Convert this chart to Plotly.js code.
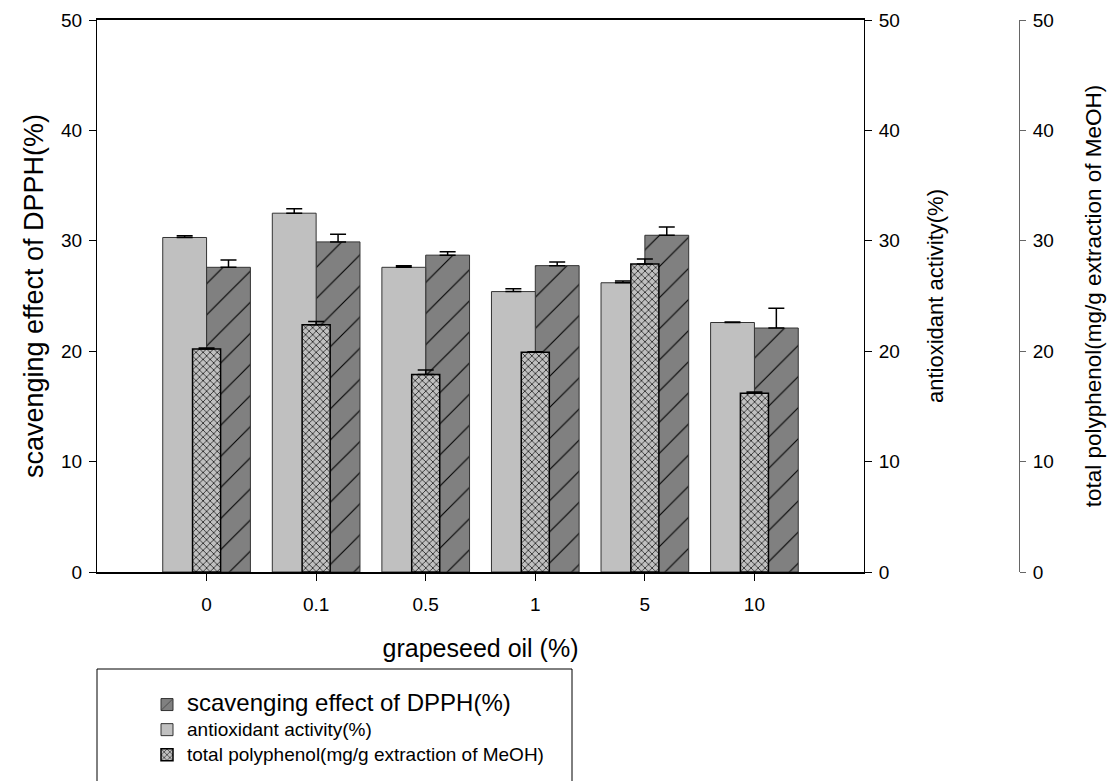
<!DOCTYPE html>
<html>
<head>
<meta charset="utf-8">
<script src="https://cdn.plot.ly/plotly-3.0.1.min.js"></script>
<style>html,body{margin:0;padding:0;background:#fff;}#chart{width:1113px;height:781px;}</style>
</head>
<body>
<div id="chart"></div>
<script>
// ---- data ----
const categories = ["0", "0.1", "0.5", "1", "5", "10"];
const scavenging = [27.6, 29.9, 28.7, 27.75, 30.5, 22.1];
const scavengingErr = [0.65, 0.7, 0.3, 0.33, 0.75, 1.8];
const antioxidant = [30.3, 32.5, 27.6, 25.4, 26.2, 22.6];
const antioxidantErr = [0.15, 0.4, 0.15, 0.25, 0.15, 0.05];
const polyphenol = [20.2, 22.4, 17.9, 19.9, 27.9, 16.2];
const polyphenolErr = [0.1, 0.3, 0.4, 0.05, 0.45, 0.1];
const yTicks = [0, 10, 20, 30, 40, 50];

const zeros = categories.map(() => 0);
const FONT = "Liberation Sans, Arial, sans-serif";

function err(arr) {
  return {type: "data", symmetric: false, array: arr, arrayminus: zeros,
          color: "#000", thickness: 1.5, width: 8};
}

const traces = [
  {
    type: "bar", name: '<span style="font-size:24px">scavenging effect of DPPH(%)</span>',
    x: categories, y: scavenging, yaxis: "y", offset: 0, width: 0.4,
    legendrank: 1, legendgroup: "a",
    marker: {color: "#808080", line: {color: "#333", width: 1},
             pattern: {shape: "/", size: 22, solidity: 0.05, fgcolor: "#000", bgcolor: "#808080"}},
    error_y: err(scavengingErr)
  },
  {
    type: "bar", name: '<span style="font-size:19px">antioxidant activity(%)</span>',
    x: categories, y: antioxidant, yaxis: "y2", offset: -0.4, width: 0.4,
    legendrank: 2, legendgroup: "b",
    marker: {color: "#c0c0c0", line: {color: "#333", width: 1}},
    error_y: err(antioxidantErr)
  },
  {
    type: "bar", name: '<span style="font-size:19px">total polyphenol(mg/g extraction of MeOH)</span>',
    x: categories, y: polyphenol, yaxis: "y3", offset: -0.128, width: 0.256,
    legendrank: 3, legendgroup: "c",
    marker: {color: "#c0c0c0", line: {color: "#000", width: 1.5},
             pattern: {shape: "x", size: 5, solidity: 0.25, fgcolor: "#000", bgcolor: "#c0c0c0"}},
    error_y: err(polyphenolErr)
  }
];

const plotW = 922, plotH = 552;
const xDomEnd = 767 / plotW;

const layout = {
  width: 1113, height: 781,
  margin: {l: 97, r: 94, t: 20, b: 209, pad: 0, autoexpand: false},
  paper_bgcolor: "#fff", plot_bgcolor: "#fff",
  font: {family: FONT, color: "#000", size: 19},
  barmode: "overlay",
  showlegend: true,
  xaxis: {
    domain: [0, xDomEnd], type: "category", range: [-1, 6],
    showgrid: false, zeroline: false,
    showline: true, linecolor: "#000", linewidth: 2, mirror: true,
    ticks: "outside", ticklen: 7, tickcolor: "#000", tickwidth: 1,
    ticklabelstandoff: 7,
    tickfont: {size: 19},
    title: {text: "grapeseed oil (%)", font: {size: 25}, standoff: 26}
  },
  yaxis: {
    range: [0, 50], tickvals: yTicks, showgrid: false, zeroline: false,
    showline: true, linecolor: "#000", linewidth: 1,
    ticks: "outside", ticklen: 7, tickcolor: "#000", ticklabelstandoff: 3,
    tickfont: {size: 19},
    title: {text: "scavenging effect of DPPH(%)", font: {size: 27}, standoff: 9}
  },
  yaxis2: {
    overlaying: "y", side: "right", anchor: "x",
    range: [0, 50], tickvals: yTicks, showgrid: false, zeroline: false,
    showline: true, linecolor: "#000", linewidth: 1,
    ticks: "outside", ticklen: 7, tickcolor: "#000", ticklabelstandoff: 3,
    tickfont: {size: 19},
    title: {text: "antioxidant activity(%)", font: {size: 22}, standoff: 28}
  },
  yaxis3: {
    overlaying: "y", side: "right", anchor: "free", position: 1,
    range: [0, 50], tickvals: yTicks, showgrid: false, zeroline: false,
    showline: true, linecolor: "#666", linewidth: 1,
    ticks: "outside", ticklen: 6, tickcolor: "#666", ticklabelstandoff: 3,
    tickfont: {size: 19},
    title: {text: "total polyphenol(mg/g extraction of MeOH)", font: {size: 22.5}, standoff: 32}
  },
  legend: {
    x: (147 - 97) / plotW, xanchor: "left",
    y: -(687 - 572) / plotH, yanchor: "top",
    bgcolor: "rgba(0,0,0,0)", borderwidth: 0,
    font: {size: 17, family: FONT}, tracegroupgap: 0, traceorder: "grouped"
  },
  shapes: [
    {type: "rect", xref: "paper", yref: "paper",
     x0: 0, x1: (572 - 97) / plotW, y0: -(669 - 572) / plotH, y1: -(800 - 572) / plotH,
     line: {color: "#000", width: 1}, fillcolor: "rgba(0,0,0,0)", layer: "below"}
  ]
};

Plotly.newPlot("chart", traces, layout, {displayModeBar: false, staticPlot: true});
</script>
</body>
</html>
